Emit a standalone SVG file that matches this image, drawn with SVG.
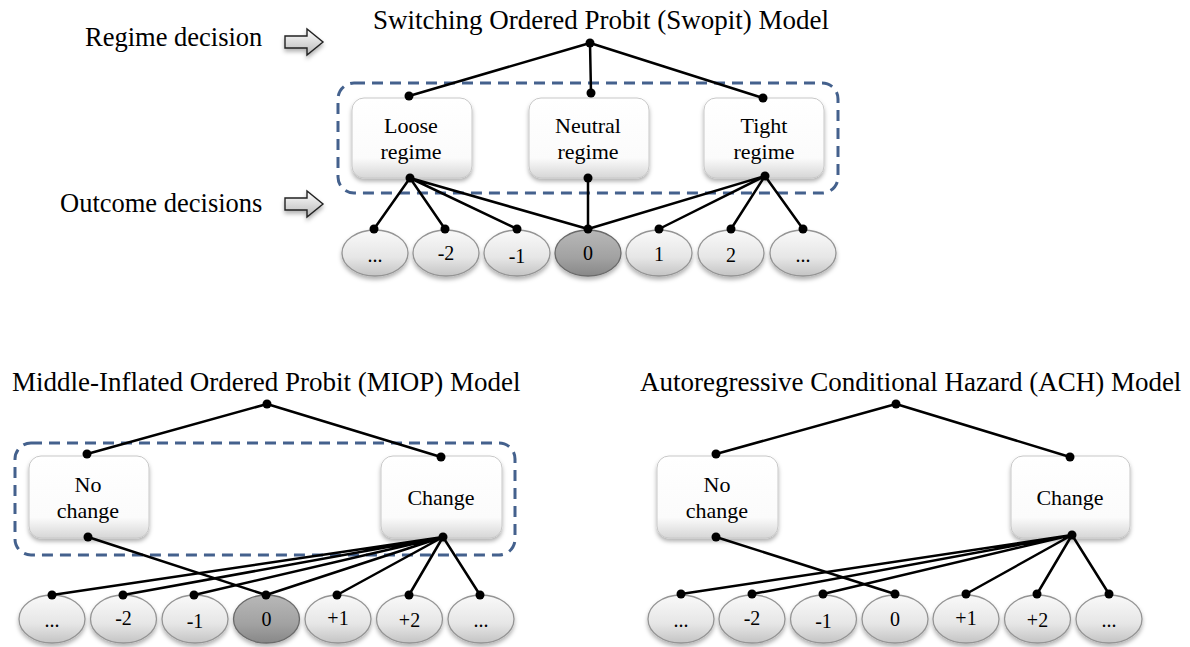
<svg xmlns="http://www.w3.org/2000/svg" width="1190" height="647" viewBox="0 0 1190 647">
<defs>
<linearGradient id="boxg" x1="0" y1="0" x2="0" y2="1">
<stop offset="0" stop-color="#ffffff"/>
<stop offset="0.75" stop-color="#fbfbfb"/>
<stop offset="1" stop-color="#d6d6d6"/>
</linearGradient>
<linearGradient id="ellg" x1="0" y1="0" x2="0" y2="1">
<stop offset="0" stop-color="#f9f9f9"/>
<stop offset="0.6" stop-color="#e6e6e6"/>
<stop offset="1" stop-color="#c4c4c4"/>
</linearGradient>
<linearGradient id="ellz" x1="0" y1="0" x2="0" y2="1">
<stop offset="0" stop-color="#b8b8b8"/>
<stop offset="0.6" stop-color="#a2a2a2"/>
<stop offset="1" stop-color="#888888"/>
</linearGradient>
<linearGradient id="arrg" x1="0" y1="0" x2="0" y2="1">
<stop offset="0" stop-color="#ffffff"/>
<stop offset="1" stop-color="#b8b8b8"/>
</linearGradient>
<filter id="sh" x="-20%" y="-20%" width="140%" height="150%">
<feDropShadow dx="0" dy="3" stdDeviation="2" flood-color="#000" flood-opacity="0.3"/>
</filter>
</defs>
<style>
text{font-family:"Liberation Serif","Times New Roman",serif;fill:#000}
.title{font-size:27px}
.side{font-size:26.5px}
.bl{font-size:22px;text-anchor:middle}
.el{font-size:20px;text-anchor:middle}
.box{fill:url(#boxg);stroke:#c8c8c8;stroke-width:1;filter:url(#sh)}
.ell{fill:url(#ellg);stroke:#949494;stroke-width:1.3;filter:url(#sh)}
.ellz{fill:url(#ellz);stroke:#6a6a6a;stroke-width:1.3;filter:url(#sh)}
.dash{fill:none;stroke:#44618d;stroke-width:3;stroke-dasharray:11 7}
.arr{fill:url(#arrg);stroke:#222;stroke-width:1.4;filter:url(#sh)}
.ln{stroke:#000;stroke-width:2.5;fill:none}
.dot{fill:#000}
</style>

<!-- Top: Swopit -->
<g id="swopit-title"><text class="title" x="373" y="29">Switching Ordered Probit (Swopit) Model</text></g>
<g id="label-regime"><text class="side" x="85" y="46">Regime decision</text>
<path class="arr" d="M285,36 H307 V29 L323,42 L307,55 V48 H285 Z"/></g>
<g id="label-outcome"><text class="side" x="60" y="212">Outcome decisions</text>
<path class="arr" d="M285,198 H307 V191 L323,204 L307,217 V210 H285 Z"/></g>
<g id="swopit-group"><rect class="dash" x="338" y="83" width="500" height="110" rx="16"/></g>
<g id="loose"><rect class="box" x="352" y="98" width="120" height="80" rx="12"/><text class="bl" x="411" y="133">Loose</text><text class="bl" x="411" y="159">regime</text></g>
<g id="neutral"><rect class="box" x="529" y="98" width="120" height="80" rx="12"/><text class="bl" x="588" y="133">Neutral</text><text class="bl" x="588" y="159">regime</text></g>
<g id="tight"><rect class="box" x="704" y="98" width="120" height="80" rx="12"/><text class="bl" x="764" y="133">Tight</text><text class="bl" x="764" y="159">regime</text></g>
<g id="s-m3"><ellipse class="ell" cx="375" cy="253" rx="33" ry="23"/><text class="el" x="375" y="262">...</text></g>
<g id="s-m2"><ellipse class="ell" cx="446" cy="253" rx="33" ry="23"/><text class="el" x="446" y="260">-2</text></g>
<g id="s-m1"><ellipse class="ell" cx="517" cy="253" rx="33" ry="23"/><text class="el" x="517" y="263">-1</text></g>
<g id="s-0"><ellipse class="ellz" cx="588" cy="253" rx="33" ry="23"/><text class="el" x="588" y="260">0</text></g>
<g id="s-p1"><ellipse class="ell" cx="659" cy="253" rx="33" ry="23"/><text class="el" x="659" y="261">1</text></g>
<g id="s-p2"><ellipse class="ell" cx="731" cy="253" rx="33" ry="23"/><text class="el" x="731" y="262">2</text></g>
<g id="s-p3"><ellipse class="ell" cx="803" cy="253" rx="33" ry="23"/><text class="el" x="803" y="262">...</text></g>

<!-- Bottom-left: MIOP -->
<g id="miop-title"><text class="title" x="12" y="391">Middle-Inflated Ordered Probit (MIOP) Model</text></g>
<g id="miop-group"><rect class="dash" x="15" y="443" width="500" height="112" rx="16"/></g>
<g id="m-nochange"><rect class="box" x="29" y="456" width="120" height="82" rx="12"/><text class="bl" x="88" y="492">No</text><text class="bl" x="88" y="518">change</text></g>
<g id="m-change"><rect class="box" x="381" y="456" width="121" height="82" rx="12"/><text class="bl" x="441" y="505">Change</text></g>
<g id="m-m3"><ellipse class="ell" cx="52" cy="619" rx="33" ry="24"/><text class="el" x="52" y="627">...</text></g>
<g id="m-m2"><ellipse class="ell" cx="123.5" cy="619" rx="33" ry="24"/><text class="el" x="123.5" y="625">-2</text></g>
<g id="m-m1"><ellipse class="ell" cx="195" cy="619" rx="33" ry="24"/><text class="el" x="195" y="628">-1</text></g>
<g id="m-0"><ellipse class="ellz" cx="266.5" cy="619" rx="33" ry="24"/><text class="el" x="266.5" y="626">0</text></g>
<g id="m-p1"><ellipse class="ell" cx="338" cy="619" rx="33" ry="24"/><text class="el" x="338" y="625">+1</text></g>
<g id="m-p2"><ellipse class="ell" cx="409.5" cy="619" rx="33" ry="24"/><text class="el" x="409.5" y="627">+2</text></g>
<g id="m-p3"><ellipse class="ell" cx="481" cy="619" rx="33" ry="24"/><text class="el" x="481" y="627">...</text></g>

<!-- Bottom-right: ACH -->
<g id="ach-title"><text class="title" x="640" y="391">Autoregressive Conditional Hazard (ACH) Model</text></g>
<g id="a-nochange"><rect class="box" x="657" y="456" width="121" height="82" rx="12"/><text class="bl" x="717" y="492">No</text><text class="bl" x="717" y="518">change</text></g>
<g id="a-change"><rect class="box" x="1011" y="456" width="119" height="82" rx="12"/><text class="bl" x="1070" y="505">Change</text></g>
<g id="a-m3"><ellipse class="ell" cx="681" cy="619" rx="33" ry="24"/><text class="el" x="681" y="627">...</text></g>
<g id="a-m2"><ellipse class="ell" cx="752" cy="619" rx="33" ry="24"/><text class="el" x="752" y="625">-2</text></g>
<g id="a-m1"><ellipse class="ell" cx="823.5" cy="619" rx="33" ry="24"/><text class="el" x="823.5" y="628">-1</text></g>
<g id="a-0"><ellipse class="ell" cx="895" cy="619" rx="33" ry="24"/><text class="el" x="895" y="626">0</text></g>
<g id="a-p1"><ellipse class="ell" cx="966" cy="619" rx="33" ry="24"/><text class="el" x="966" y="625">+1</text></g>
<g id="a-p2"><ellipse class="ell" cx="1037.5" cy="619" rx="33" ry="24"/><text class="el" x="1037.5" y="627">+2</text></g>
<g id="a-p3"><ellipse class="ell" cx="1109" cy="619" rx="33" ry="24"/><text class="el" x="1109" y="627">...</text></g>

<g id="connectors">
<g class="ln">
<path d="M590,43 L409,96 M590,43 L591,93 M590,43 L763,98"/>
<path d="M410,178 L374,229 M410,178 L445,229 M410,178 L517,229 M410,178 L588,229"/>
<path d="M588,178 L588,229"/>
<path d="M765,176 L588,229 M765,176 L659,229 M765,176 L731,229 M765,176 L803,229"/>
<path d="M267,404 L87,454 M267,404 L441,457"/>
<path d="M88,537 L266,595"/>
<path d="M443,537 L52,595 M443,537 L123,595 M443,537 L194,595 M443,537 L266,595 M443,537 L337,595 M443,537 L409,595 M443,537 L480,595"/>
<path d="M896,404 L716,454 M896,404 L1070,457"/>
<path d="M716,537 L895,594"/>
<path d="M1072,535 L681,594 M1072,535 L752,594 M1072,535 L823,594 M1072,535 L966,594 M1072,535 L1037,594 M1072,535 L1109,594"/>
</g>
<g class="dot">
<circle cx="590" cy="43" r="4.5"/><circle cx="409" cy="96" r="4.5"/><circle cx="591" cy="93" r="4.5"/><circle cx="763" cy="98" r="4.5"/>
<circle cx="410" cy="178" r="4.5"/><circle cx="588" cy="178" r="4.5"/><circle cx="765" cy="176" r="4.5"/>
<circle cx="374" cy="229" r="4.5"/><circle cx="445" cy="229" r="4.5"/><circle cx="517" cy="229" r="4.5"/><circle cx="588" cy="229" r="4.5"/><circle cx="659" cy="229" r="4.5"/><circle cx="731" cy="229" r="4.5"/><circle cx="803" cy="229" r="4.5"/>
<circle cx="267" cy="404" r="4.5"/><circle cx="87" cy="454" r="4.5"/><circle cx="441" cy="457" r="4.5"/><circle cx="88" cy="537" r="4.5"/><circle cx="443" cy="537" r="4.5"/>
<circle cx="52" cy="595" r="4.5"/><circle cx="123" cy="595" r="4.5"/><circle cx="194" cy="595" r="4.5"/><circle cx="266" cy="595" r="4.5"/><circle cx="337" cy="595" r="4.5"/><circle cx="409" cy="595" r="4.5"/><circle cx="480" cy="595" r="4.5"/>
<circle cx="896" cy="404" r="4.5"/><circle cx="716" cy="454" r="4.5"/><circle cx="1070" cy="457" r="4.5"/><circle cx="716" cy="537" r="4.5"/><circle cx="1072" cy="535" r="4.5"/>
<circle cx="681" cy="594" r="4.5"/><circle cx="752" cy="594" r="4.5"/><circle cx="823" cy="594" r="4.5"/><circle cx="895" cy="594" r="4.5"/><circle cx="966" cy="594" r="4.5"/><circle cx="1037" cy="594" r="4.5"/><circle cx="1109" cy="594" r="4.5"/>
</g>
</g>
</svg>
